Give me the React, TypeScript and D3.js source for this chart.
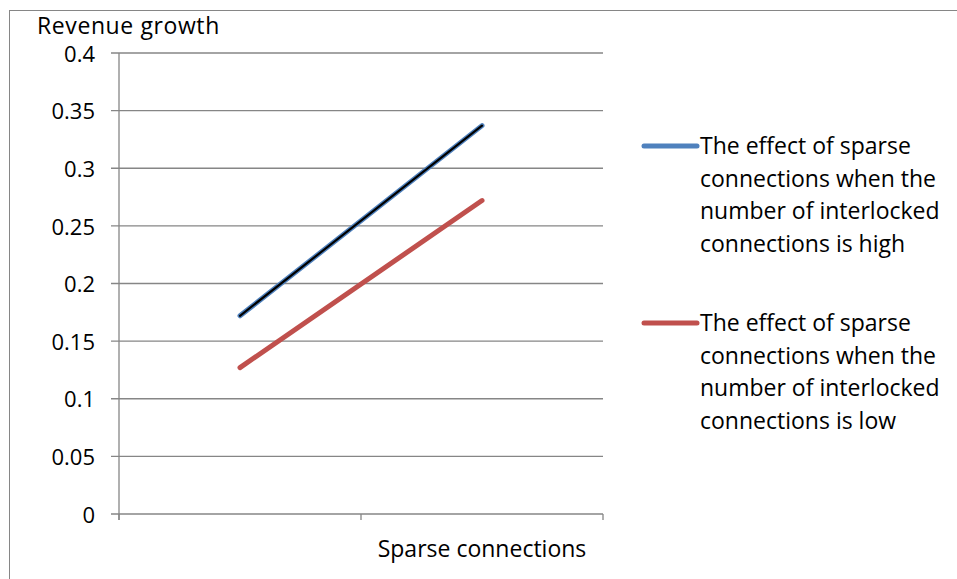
import React from "react";
import * as d3 from "d3";

const categories = ["Low", "High"];
const seriesNames = [
  "The effect of sparse connections when the number of interlocked connections is high",
  "The effect of sparse connections when the number of interlocked connections is low",
];
const highValues = [0.172, 0.337];
const lowValues = [0.127, 0.272];
const yTicks = [0, 0.05, 0.1, 0.15, 0.2, 0.25, 0.3, 0.35, 0.4];
const yTickLabels = ["0", "0.05", "0.1", "0.15", "0.2", "0.25", "0.3", "0.35", "0.4"];
const legendLines = [
  ["The effect of sparse", "connections when the", "number of interlocked", "connections is high"],
  ["The effect of sparse", "connections when the", "number of interlocked", "connections is low"],
];

const W = 957;
const H = 579;
const FONT = "'Open Sans', sans-serif";
const FS = 23;
const TFS = 22;

export default function App() {
  const left = 119, right = 603, top = 53, bottom = 514;
  const x = d3.scaleBand<string>().domain(categories).range([left, right]);
  const y = d3.scaleLinear().domain([0, 0.4]).range([bottom, top]);
  const cx = (c: string) => (x(c) as number) + x.bandwidth() / 2;
  const line = d3
    .line<number>()
    .x((_, i) => cx(categories[i]))
    .y((d) => y(d));
  const grid = "#868686";
  const xTickPos = [left, ...categories.map((c) => (x(c) as number) + x.bandwidth())];

  return (
    <svg
      width={W}
      height={H}
      style={{ position: "absolute", left: 0, top: 0, background: "#fff" }}
      fontFamily={FONT}
    >
      <rect x={9.5} y={10.5} width={W + 10} height={H + 10} fill="#fff" stroke="#868686" strokeWidth={1} />
      {yTicks.map((t, i) => (
        <g key={i}>
          <line x1={111} x2={right} y1={y(t)} y2={y(t)} stroke={grid} strokeWidth={1.3} />
          <text x={95} y={y(t) + 1} dy="0.35em" textAnchor="end" fontSize={TFS} fill="#000">
            {yTickLabels[i]}
          </text>
        </g>
      ))}
      <line x1={left} x2={left} y1={top} y2={bottom + 6} stroke={grid} strokeWidth={1.3} />
      {xTickPos.map((p, i) => (
        <line key={i} x1={p} x2={p} y1={bottom} y2={bottom + 6} stroke={grid} strokeWidth={1.3} />
      ))}
      <text x={37} y={26} dy="0.35em" fontSize={FS} letterSpacing={0.6} fill="#000">Revenue growth</text>
      <text x={482} y={549} dy="0.35em" textAnchor="middle" fontSize={FS} fill="#000">
        Sparse connections
      </text>
      <path d={line(highValues) || ""} fill="none" stroke="#4F81BD" strokeWidth={5} strokeLinecap="round" />
      <path d={line(highValues) || ""} fill="none" stroke="#000" strokeWidth={2.2} strokeLinecap="round" />
      <path d={line(lowValues) || ""} fill="none" stroke="#C0504D" strokeWidth={5} strokeLinecap="round" />
      {[0, 1].map((s) => {
        const baseY = s === 0 ? 146 : 323;
        const col = s === 0 ? "#4F81BD" : "#C0504D";
        return (
          <g key={s}>
            <title>{seriesNames[s]}</title>
            <line x1={644} x2={697} y1={baseY} y2={baseY} stroke={col} strokeWidth={5} strokeLinecap="round" />
            {legendLines[s].map((t, i) => (
              <text key={i} x={700} y={baseY + i * 32.5} dy="0.35em" fontSize={FS} fill="#000">
                {t}
              </text>
            ))}
          </g>
        );
      })}
    </svg>
  );
}
